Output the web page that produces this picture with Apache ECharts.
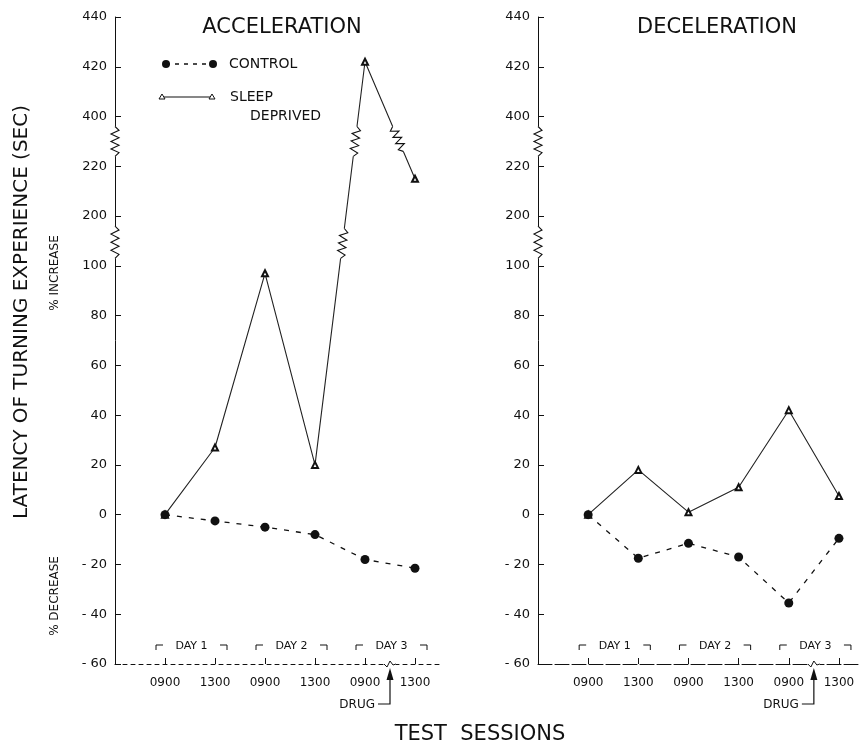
<!DOCTYPE html>
<html>
<head>
<meta charset="utf-8">
<title>Latency of turning experience</title>
<script src="https://cdn.jsdelivr.net/npm/echarts@6.0.0/dist/echarts.min.js"></script>
<style>
  body { margin: 0; background: #fff; }
  #main { width: 862px; height: 742px; }
</style>
</head>
<body>
<div id="main"></div>
<script type="text/javascript">
// sessions on the x axis
var sessions = ['0900', '1300', '0900', '1300', '0900', '1300'];
var days = ['DAY 1', 'DAY 2', 'DAY 3'];
var drugAt = 4.5; // drug given between 0900 and 1300 on day 3

// broken y axis: every tick takes one equal step on screen
var yTicks = [-60, -40, -20, 0, 20, 40, 60, 80, 100, 200, 220, 400, 420, 440];
var yTickLabels = ['- 60', '- 40', '- 20', '0', '20', '40', '60', '80', '100', '200', '220', '400', '420', '440'];

// % change of latency
var accelControl = [0, -2.5, -5, -8, -18, -21.5];
var accelSleep = [0, 27, 97, 20, 422, 215];
var decelControl = [0, -17.5, -11.5, -17, -35.5, -9.5];
var decelSleep = [0, 18, 1, 11, 42, 7.5];

var FONT = '"DejaVu Sans", "Liberation Sans", sans-serif';
var INK = '#111';

// value -> position on the broken axis (tick index, 0 sits at 0)
function toPos(v) {
  for (var i = 0; i < yTicks.length - 1; i++) {
    if (v <= yTicks[i + 1]) {
      return i - 3 + (v - yTicks[i]) / (yTicks[i + 1] - yTicks[i]);
    }
  }
  return yTicks.length - 4;
}
function pts(arr) {
  return arr.map(function (v, i) { return [i, toPos(v)]; });
}

var chart = echarts.init(document.getElementById('main'), null, { renderer: 'canvas' });

function xAxisFor(idx, max, dash) {
  return {
    type: 'value', gridIndex: idx, min: -1, max: max,
    axisLine: { onZero: false, lineStyle: { color: INK, width: 1, type: dash } },
    axisTick: { inside: true, length: 6, customValues: [0, 1, 2, 3, 4, 5], lineStyle: { color: INK } },
    axisLabel: {
      customValues: [0, 1, 2, 3, 4, 5], margin: 13,
      color: INK, fontSize: 12, fontFamily: FONT,
      formatter: function (v) { return sessions[v] || ''; }
    },
    splitLine: { show: false }
  };
}
function yAxisFor(idx) {
  return {
    type: 'value', gridIndex: idx, min: -3, max: 10, interval: 1,
    axisLine: { show: true, onZero: false, lineStyle: { color: INK, width: 1 } },
    axisTick: { show: true, inside: true, length: 6, lineStyle: { color: INK } },
    axisLabel: {
      margin: 8, color: INK, fontSize: 13, fontFamily: FONT,
      formatter: function (v) { return yTickLabels[Math.round(v) + 3]; }
    },
    splitLine: { show: false }
  };
}
function controlSeries(idx, data) {
  return {
    type: 'line', xAxisIndex: idx, yAxisIndex: idx, data: pts(data),
    symbol: 'circle', symbolSize: 9, z: 3,
    itemStyle: { color: INK },
    lineStyle: { color: INK, width: 1.3, type: [5, 7] }
  };
}
function sleepSeries(idx, data) {
  return {
    type: 'line', xAxisIndex: idx, yAxisIndex: idx, data: pts(data),
    symbol: 'emptyTriangle', symbolSize: 6, z: 2,
    itemStyle: { color: INK, borderWidth: 1 },
    lineStyle: { color: '#222', width: 1.1 }
  };
}

var option = {
  backgroundColor: '#fff',
  animation: false,
  grid: [
    { left: 115, top: 17, width: 325, height: 647, outerBoundsMode: 'none' },
    { left: 538, top: 17, width: 321, height: 647, outerBoundsMode: 'none' }
  ],
  xAxis: [xAxisFor(0, 5.5, [4, 4]), xAxisFor(1, 5.4, [14, 3])],
  yAxis: [yAxisFor(0), yAxisFor(1)],
  series: [
    controlSeries(0, accelControl), sleepSeries(0, accelSleep),
    controlSeries(1, decelControl), sleepSeries(1, decelSleep)
  ]
};
chart.setOption(option);

// ---- decorations drawn on top, placed through the axes ----
function px(g, x, p) { return chart.convertToPixel({ gridIndex: g }, [x, p]); }

function text(x, y, s, size, extra) {
  var o = {
    type: 'text', x: x, y: y, z: 100,
    style: { text: s, fontSize: size, fontFamily: FONT, fill: INK, align: 'center', verticalAlign: 'middle' }
  };
  if (extra) {
    for (var k in extra) o[k] = extra[k];
    if (extra.align) o.style.align = extra.align;
  }
  return o;
}
function poly(points, w) {
  return { type: 'polyline', z: 100, shape: { points: points }, style: { stroke: INK, lineWidth: w || 1, fill: null } };
}
function zigzag(p0, p1, n, amp) {
  var dx = p1[0] - p0[0], dy = p1[1] - p0[1];
  var len = Math.sqrt(dx * dx + dy * dy);
  var nx = -dy / len, ny = dx / len;
  var out = [p0];
  for (var k = 1; k < n * 2; k++) {
    var t = k / (n * 2), s = (k % 2 ? 1 : -1) * amp;
    out.push([p0[0] + dx * t + nx * s, p0[1] + dy * t + ny * s]);
  }
  out.push(p1);
  return out;
}
function breakMark(p0, p1) {
  return [
    { type: 'line', z: 99, shape: { x1: p0[0], y1: p0[1], x2: p1[0], y2: p1[1] }, style: { stroke: '#fff', lineWidth: 5 } },
    poly(zigzag(p0, p1, 4, 4), 1.1)
  ];
}
// break on a data segment between two sessions
function segBreak(g, data, i, lo, hi) {
  var a = toPos(data[i]), b = toPos(data[i + 1]);
  var t0 = (lo - a) / (b - a), t1 = (hi - a) / (b - a);
  return breakMark(px(g, i + t0, lo), px(g, i + t1, hi));
}

var breaks = [[5.15, 5.8], [7.2, 7.8]];

function buildGraphics() {
  var gr = [];
  [0, 1].forEach(function (g) {
    // axis breaks
    breaks.forEach(function (b) {
      gr = gr.concat(breakMark(px(g, -1, b[0]), px(g, -1, b[1])));
    });
    // day brackets
    days.forEach(function (d, k) {
      var x0 = px(g, 2 * k, 0)[0] - 9, x1 = px(g, 2 * k + 1, 0)[0] + 12, y = 645;
      gr.push(poly([[x0, y + 5], [x0, y], [x0 + 7, y]]));
      gr.push(poly([[x1 - 7, y], [x1, y], [x1, y + 5]]));
      gr.push(text((x0 + x1) / 2, y + 1, d, 11));
    });
    // drug arrow and notch on the x axis
    var base = px(g, drugAt, -3);
    var xd = base[0];
    gr.push({ type: 'line', z: 99, shape: { x1: xd - 6, y1: base[1], x2: xd + 6, y2: base[1] }, style: { stroke: '#fff', lineWidth: 3 } });
    gr.push(poly([[xd - 6, base[1]], [xd - 3, base[1] + 3], [xd, base[1] - 3], [xd + 3, base[1] + 1], [xd + 6, base[1]]]));
    gr.push({ type: 'polygon', z: 100, shape: { points: [[xd, 668], [xd - 3.5, 680], [xd + 3.5, 680]] }, style: { fill: INK } });
    gr.push(poly([[xd, 678], [xd, 704], [xd - 12, 704]], 1.2));
    gr.push(text(xd - 15, 705, 'DRUG', 12, { align: 'right' }));
  });
  // data line breaks (acceleration, sleep deprived)
  gr = gr.concat(segBreak(0, accelSleep, 3, 5.15, 5.75));
  gr = gr.concat(segBreak(0, accelSleep, 3, 7.2, 7.8));
  gr = gr.concat(segBreak(0, accelSleep, 4, 7.8, 7.3));

  // titles
  gr.push(text(282, 28, 'ACCELERATION', 21));
  gr.push(text(717, 28, 'DECELERATION', 21));
  gr.push(text(22, 312, 'LATENCY OF TURNING EXPERIENCE (SEC)', 20, { rotation: Math.PI / 2 }));
  gr.push(text(55, 273, '% INCREASE', 12, { rotation: Math.PI / 2 }));
  gr.push(text(55, 596, '% DECREASE', 12, { rotation: Math.PI / 2 }));
  gr.push(text(480, 735, 'TEST  SESSIONS', 21));

  // legend
  gr.push({ type: 'line', z: 100, shape: { x1: 166, y1: 64, x2: 213, y2: 64 }, style: { stroke: INK, lineWidth: 1.3, lineDash: [4, 5] } });
  gr.push({ type: 'circle', z: 100, shape: { cx: 166, cy: 64, r: 4 }, style: { fill: INK } });
  gr.push({ type: 'circle', z: 100, shape: { cx: 213, cy: 64, r: 4 }, style: { fill: INK } });
  gr.push(text(229, 64, 'CONTROL', 14, { align: 'left' }));
  gr.push({ type: 'line', z: 100, shape: { x1: 162, y1: 97, x2: 212, y2: 97 }, style: { stroke: INK, lineWidth: 1.1 } });
  [162, 212].forEach(function (x) {
    gr.push({ type: 'polygon', z: 100, shape: { points: [[x, 94], [x - 3, 99], [x + 3, 99]] }, style: { fill: '#fff', stroke: INK, lineWidth: 1 } });
  });
  gr.push(text(230, 97, 'SLEEP', 14, { align: 'left' }));
  gr.push(text(250, 116, 'DEPRIVED', 14, { align: 'left' }));
  return gr;
}

chart.setOption({ graphic: buildGraphics() });
</script>
</body>
</html>
